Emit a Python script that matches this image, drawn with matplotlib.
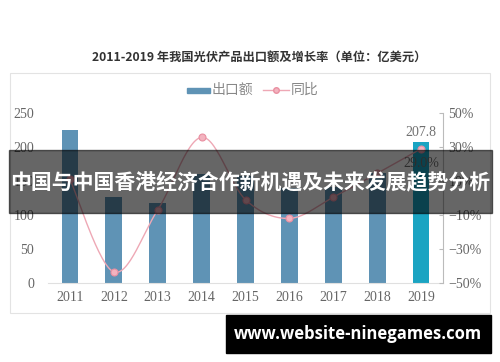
import numpy as np
import matplotlib
matplotlib.use("Agg")
import matplotlib.pyplot as plt
from matplotlib.patches import Rectangle
from matplotlib.lines import Line2D

plt.rcParams['font.family'] = ['Noto Sans CJK SC', 'DejaVu Sans']

years = ['2011', '2012', '2013', '2014', '2015', '2016', '2017', '2018', '2019']
exports = [225.0, 127.0, 118.0, 160.0, 158.0, 140.0, 140.5, 161.1, 207.8]
growth = [11.0, -43.5, -7.0, 35.7, -1.0, -12.0, 0.5, 14.5, 29.0]
left_ticks = [0, 50, 100, 150, 200, 250]
right_ticks = [50, 30, 10, -10, -30, -50]
title = '2011-2019 年我国光伏产品出口额及增长率（单位：亿美元）'
legend_labels = ['出口额', '同比']
banner = '中国与中国香港经济合作新机遇及未来发展趋势分析'
watermark = 'www.website-ninegames.com'

W, H = 500, 362
fig = plt.figure(figsize=(W / 100, H / 100), dpi=100)
fig.patch.set_facecolor('white')

def fx(px):
    return px / W

def fy(py):
    return 1 - py / H

# chart frame
fig.patches.append(Rectangle((fx(10), fy(313)), fx(480), (313 - 73) / H,
                             transform=fig.transFigure, fill=False,
                             edgecolor='#e3e3e3', lw=0.8, zorder=0))

ax = fig.add_axes([fx(48), fy(283), fx(443) - fx(48), (283 - 113) / H])
x = np.arange(len(years))
bar_colors = ['#5f93b5'] * (len(years) - 1) + ['#1ba4c2']
ax.bar(x, exports, width=0.38, color=bar_colors, zorder=2)
ax.set_xlim(-0.5, len(years) - 0.5)
ax.set_ylim(0, 250)
ax.set_yticks(left_ticks)
ax.set_xticks(x)
ax.set_xticklabels(years)
for s in ['top', 'right', 'left']:
    ax.spines[s].set_visible(False)
ax.spines['bottom'].set_color('#e0e0e0')
ax.tick_params(axis='both', length=0, colors='#666666', labelsize=10)
ax.tick_params(axis='x', pad=6)
ax.tick_params(axis='y', pad=10)
for lab in ax.get_xticklabels() + ax.get_yticklabels():
    lab.set_fontfamily(['Liberation Serif'])
    lab.set_color('#666666')
ax.text(x[-1], exports[-1] + 4, '207.8', ha='center', va='bottom',
        fontsize=10, color='#707070', family=['Liberation Serif'])

ax2 = ax.twinx()
ax2.set_ylim(-50, 50)
ax2.set_yticks(right_ticks)
ax2.set_yticklabels(['%d%%' % v if v >= 0 else '\u2212%d%%' % (-v) for v in right_ticks])
for s in ['top', 'left', 'bottom']:
    ax2.spines[s].set_visible(False)
ax2.spines['right'].set_color('#bbbbbb')
ax2.spines['right'].set_linewidth(0.8)
ax2.tick_params(axis='y', direction='in', length=3, color='#bbbbbb',
                colors='#666666', labelsize=10, pad=4)
for lab in ax2.get_yticklabels():
    lab.set_fontfamily(['Liberation Serif'])
    lab.set_color('#666666')

# smoothed line (Catmull-Rom / bezier like Excel)
g = np.array(growth, dtype=float)
n = len(g)
xs, ys = [], []
t = np.linspace(0, 1, 30)
for i in range(n - 1):
    p0 = np.array([x[max(i - 1, 0)], g[max(i - 1, 0)]], float)
    p1 = np.array([x[i], g[i]], float)
    p2 = np.array([x[i + 1], g[i + 1]], float)
    p3 = np.array([x[min(i + 2, n - 1)], g[min(i + 2, n - 1)]], float)
    c1 = p1 + (p2 - p0) / 6
    c2 = p2 - (p3 - p1) / 6
    b = ((1 - t) ** 3)[:, None] * p1 + (3 * (1 - t) ** 2 * t)[:, None] * c1 + \
        (3 * (1 - t) * t ** 2)[:, None] * c2 + (t ** 3)[:, None] * p2
    xs.extend(b[:, 0])
    ys.extend(b[:, 1])
line_color = '#eea8b5'
ax2.plot(xs, ys, color=line_color, lw=1.0, zorder=3)
ax2.plot(x, g, linestyle='none', marker='o', markersize=5,
         markerfacecolor='#f3b3bf', markeredgecolor='#e98fa1', markeredgewidth=0.8, zorder=4)
ax2.text(x[-1], g[-1] - 5, '29.0%', ha='center', va='top', fontsize=10,
         color='#707070', family=['Liberation Serif'])

# title
fig.text(fx(259), fy(57), title, ha='center', va='center', fontsize=8.8,
         color='#333333', fontweight='bold')

# legend
fig.patches.append(Rectangle((fx(187), fy(93)), fx(23), 5 / H, transform=fig.transFigure,
                             color='#5f93b5'))
fig.text(fx(212), fy(90), legend_labels[0], ha='left', va='center', fontsize=10, color='#888888')
fig.lines.append(Line2D([fx(263), fx(289)], [fy(90), fy(90)], transform=fig.transFigure,
                        color=line_color, lw=1.0))
fig.lines.append(Line2D([fx(276)], [fy(90)], transform=fig.transFigure, marker='o',
                        markersize=4, markerfacecolor='#f3b3bf', markeredgecolor='#e98fa1',
                        linestyle='none'))
fig.text(fx(291), fy(90), legend_labels[1], ha='left', va='center', fontsize=10, color='#888888')

# overlay banner
fig.patches.append(Rectangle((fx(9), fy(213)), fx(483), (213 - 150) / H,
                             transform=fig.transFigure, color='black', alpha=0.6, zorder=10))
fig.text(0.5, fy(182), banner, ha='center', va='center', fontsize=15, color='white',
         fontweight='bold', zorder=11)

# watermark
fig.patches.append(Rectangle((fx(226), fy(353)), fx(265), (353 - 315) / H,
                             transform=fig.transFigure, color='black', zorder=10))
fig.text(fx(358), fy(334), watermark, ha='center', va='center', fontsize=12, color='white',
         fontweight='bold', family=['Open Sans', 'DejaVu Sans'], zorder=11)

fig.savefig('out.png', dpi=100)
